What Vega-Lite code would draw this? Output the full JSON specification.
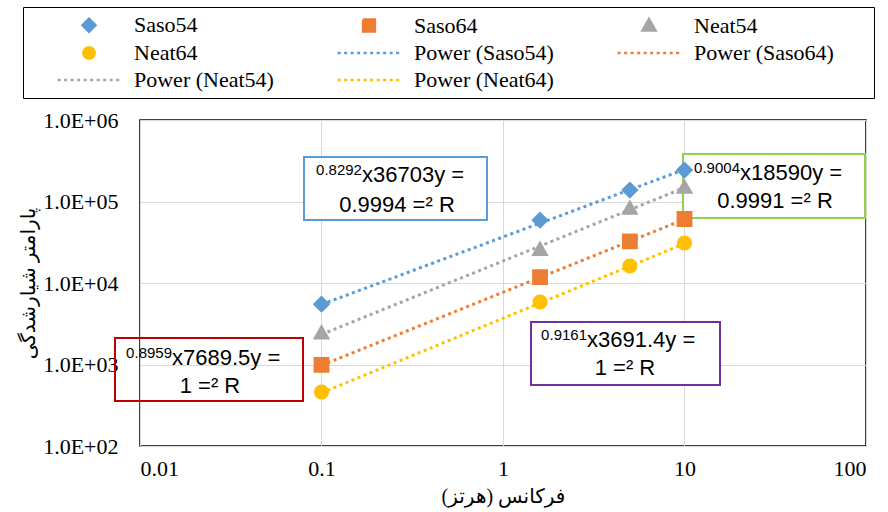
{
  "$schema": "https://vega.github.io/schema/vega-lite/v6.json",
  "width": 726,
  "height": 326,
  "autosize": {"type": "none"},
  "padding": {"left": 140, "top": 120, "right": 22, "bottom": 66},
  "config": {
    "view": {"stroke": "black", "strokeWidth": 1.5},
    "axis": {
      "domain": false, "ticks": false, "grid": true, "gridColor": "#D9D9D9", "gridWidth": 1,
      "labelFont": "Liberation Serif", "labelFontSize": 22, "labelColor": "black",
      "titleFont": "Liberation Serif, DejaVu Sans", "titleFontSize": 20, "titleFontWeight": "normal", "titleColor": "black"
    },
    "legend": {"strokeColor": "black", "strokeWidth": 1, "symbolStrokeWidth": 2.5}
  },
  "datasets": {
    "pts": [
      {"series": "Saso54", "freq": 0.1, "value": 5500},
      {"series": "Saso54", "freq": 1.6, "value": 59000},
      {"series": "Saso54", "freq": 5, "value": 138000},
      {"series": "Saso54", "freq": 10, "value": 243000},
      {"series": "Saso64", "freq": 0.1, "value": 990},
      {"series": "Saso64", "freq": 1.6, "value": 11800},
      {"series": "Saso64", "freq": 5, "value": 32500},
      {"series": "Saso64", "freq": 10, "value": 61000},
      {"series": "Neat54", "freq": 0.1, "value": 2450},
      {"series": "Neat54", "freq": 1.6, "value": 26000},
      {"series": "Neat54", "freq": 5, "value": 83000},
      {"series": "Neat54", "freq": 10, "value": 150000},
      {"series": "Neat64", "freq": 0.1, "value": 460},
      {"series": "Neat64", "freq": 1.6, "value": 5850},
      {"series": "Neat64", "freq": 5, "value": 16200},
      {"series": "Neat64", "freq": 10, "value": 31000}
    ],
    "trend": [
      {"series": "Power (Saso54)", "freq": 0.1, "value": 5441},
      {"series": "Power (Saso54)", "freq": 10, "value": 247573},
      {"series": "Power (Saso64)", "freq": 0.1, "value": 977},
      {"series": "Power (Saso64)", "freq": 10, "value": 60497},
      {"series": "Power (Neat54)", "freq": 0.1, "value": 2339},
      {"series": "Power (Neat54)", "freq": 10, "value": 147802},
      {"series": "Power (Neat64)", "freq": 0.1, "value": 448},
      {"series": "Power (Neat64)", "freq": 10, "value": 30422}
    ],
    "boxes": [
      {"box": "Saso54", "freq": 0.0801, "freq2": 0.816, "value": 59300, "value2": 351600},
      {"box": "Neat54", "freq": 9.81, "freq2": 98.7, "value": 62800, "value2": 383000},
      {"box": "Saso64", "freq": 0.00728, "freq2": 0.0791, "value": 356, "value2": 2113},
      {"box": "Neat64", "freq": 1.427, "freq2": 15.69, "value": 560, "value2": 3319}
    ],
    "eq": [
      {"sup": "0.8292", "main": "x36703y =", "freq": 0.1671, "value": 173500},
      {"sup": "0.9004", "main": "x18590y =", "freq": 20.22, "value": 183600},
      {"sup": "0.8959", "main": "x7689.5y =", "freq": 0.01501, "value": 986},
      {"sup": "0.9161", "main": "x3691.4y =", "freq": 2.903, "value": 1639}
    ],
    "r2": [
      {"text": "0.9994 =² R", "freq": 0.2606, "value": 74300},
      {"text": "0.9991 =² R", "freq": 31.52, "value": 83220},
      {"text": "1 =² R", "freq": 0.0243, "value": 447},
      {"text": "1 =² R", "freq": 4.701, "value": 743}
    ]
  },
  "layer": [
    {
      "data": {"name": "trend"},
      "mark": {"type": "line", "strokeWidth": 3},
      "encoding": {
        "x": {"field": "freq", "type": "quantitative", "scale": {"type": "log", "domain": [0.01, 100], "nice": false},
              "axis": {"values": [0.01, 0.1, 1, 10, 100], "format": "~g", "labelPadding": 12, "title": "فرکانس (هرتز)", "titleY": 50, "titleBaseline": "middle"}},
        "y": {"field": "value", "type": "quantitative", "scale": {"type": "log", "domain": [100, 1000000], "nice": false},
              "axis": {"values": [100, 1000, 10000, 100000, 1000000], "labelExpr": "'1.0E+0' + format(log(datum.value)/LN10, '.0f')", "labelPadding": 22,
                       "title": "پارامتر شیارشدگی", "titleX": -112, "titleY": 163, "titleAngle": -90, "titleBaseline": "middle", "titleAlign": "center"}},
        "color": {
          "field": "series", "type": "nominal",
          "scale": {
            "domain": ["Saso54", "Saso64", "Neat54", "Neat64", "Power (Saso54)", "Power (Saso64)", "Power (Neat54)", "Power (Neat64)"],
            "range": ["#5B9BD5", "#ED7D31", "#A5A5A5", "#FFC000", "#5B9BD5", "#ED7D31", "#A5A5A5", "#FFC000"]
          },
          "legend": {
            "orient": "none", "legendX": -117, "legendY": -113, "columns": 3, "direction": "horizontal", "title": null,
            "symbolSize": 140, "symbolOffset": 48, "symbolStrokeWidth": 2.5, "labelFont": "Liberation Serif", "labelFontSize": 22, "labelColor": "black", "labelLimit": 400,
            "labelOffset": 34, "columnPadding": -3, "rowPadding": 5, "padding": 7, "strokeColor": "black", "gridAlign": "each"
          }
        },
        "strokeDash": {
          "field": "series", "type": "nominal",
          "scale": {
            "domain": ["Saso54", "Saso64", "Neat54", "Neat64", "Power (Saso54)", "Power (Saso64)", "Power (Neat54)", "Power (Neat64)"],
            "range": [[1, 0], [1, 0], [1, 0], [1, 0], [3, 3.5], [3, 3.5], [3, 3.5], [3, 3.5]]
          }
        },
        "detail": {"field": "series"}
      }
    },
    {
      "data": {"name": "boxes"},
      "mark": {"type": "rect", "strokeWidth": 2},
      "encoding": {
        "x": {"field": "freq", "type": "quantitative"},
        "x2": {"field": "freq2"},
        "y": {"field": "value", "type": "quantitative"},
        "y2": {"field": "value2"},
        "stroke": {"field": "box", "type": "nominal", "legend": null,
                   "scale": {"domain": ["Saso54", "Neat54", "Saso64", "Neat64"], "range": ["#5B9BD5", "#92D050", "#C00000", "#7030A0"]}},
        "fill": {"field": "box", "type": "nominal", "legend": null,
                 "scale": {"domain": ["Saso54", "Neat54", "Saso64", "Neat64"], "range": ["white", "white", "rgba(255,255,255,0)", "white"]}}
      }
    },
    {
      "data": {"name": "pts"},
      "mark": {"type": "point", "filled": true, "opacity": 1, "size": 250, "strokeWidth": 0},
      "encoding": {
        "x": {"field": "freq", "type": "quantitative"},
        "y": {"field": "value", "type": "quantitative"},
        "color": {"field": "series", "type": "nominal"},
        "shape": {
          "field": "series", "type": "nominal",
          "scale": {
            "domain": ["Saso54", "Saso64", "Neat54", "Neat64", "Power (Saso54)", "Power (Saso64)", "Power (Neat54)", "Power (Neat64)"],
            "range": [
              "M-10.1,0M0,-1.1L1.1,0L0,1.1L-1.1,0ZM36,0",
              "M-10.1,0M-1,-1H1V1H-1ZM36,0",
              "M-10.1,0M0,-1.1L1.1,0.85H-1.1ZM36,0",
              "M-10.1,0M-0.95,0A0.95,0.95,0,1,0,0.95,0A0.95,0.95,0,1,0,-0.95,0ZM36,0",
              "M-10.1,0M-5.3,0H5.3M36,0",
              "M-10.1,0M-5.3,0H5.3M36,0",
              "M-10.1,0M-5.3,0H5.3M36,0",
              "M-10.1,0M-5.3,0H5.3M36,0"
            ]
          }
        }
      }
    },
    {
      "data": {"name": "eq"},
      "mark": {"type": "text", "align": "right", "baseline": "alphabetic", "dy": -7, "font": "Liberation Sans", "fontSize": 15, "color": "black"},
      "encoding": {
        "x": {"field": "freq", "type": "quantitative"},
        "y": {"field": "value", "type": "quantitative"},
        "text": {"field": "sup"}
      }
    },
    {
      "data": {"name": "eq"},
      "mark": {"type": "text", "align": "left", "baseline": "alphabetic", "font": "Liberation Sans", "fontSize": 22, "color": "black"},
      "encoding": {
        "x": {"field": "freq", "type": "quantitative"},
        "y": {"field": "value", "type": "quantitative"},
        "text": {"field": "main"}
      }
    },
    {
      "data": {"name": "r2"},
      "mark": {"type": "text", "align": "center", "baseline": "alphabetic", "font": "Liberation Sans", "fontSize": 22, "color": "black"},
      "encoding": {
        "x": {"field": "freq", "type": "quantitative"},
        "y": {"field": "value", "type": "quantitative"},
        "text": {"field": "text"}
      }
    }
  ]
}
